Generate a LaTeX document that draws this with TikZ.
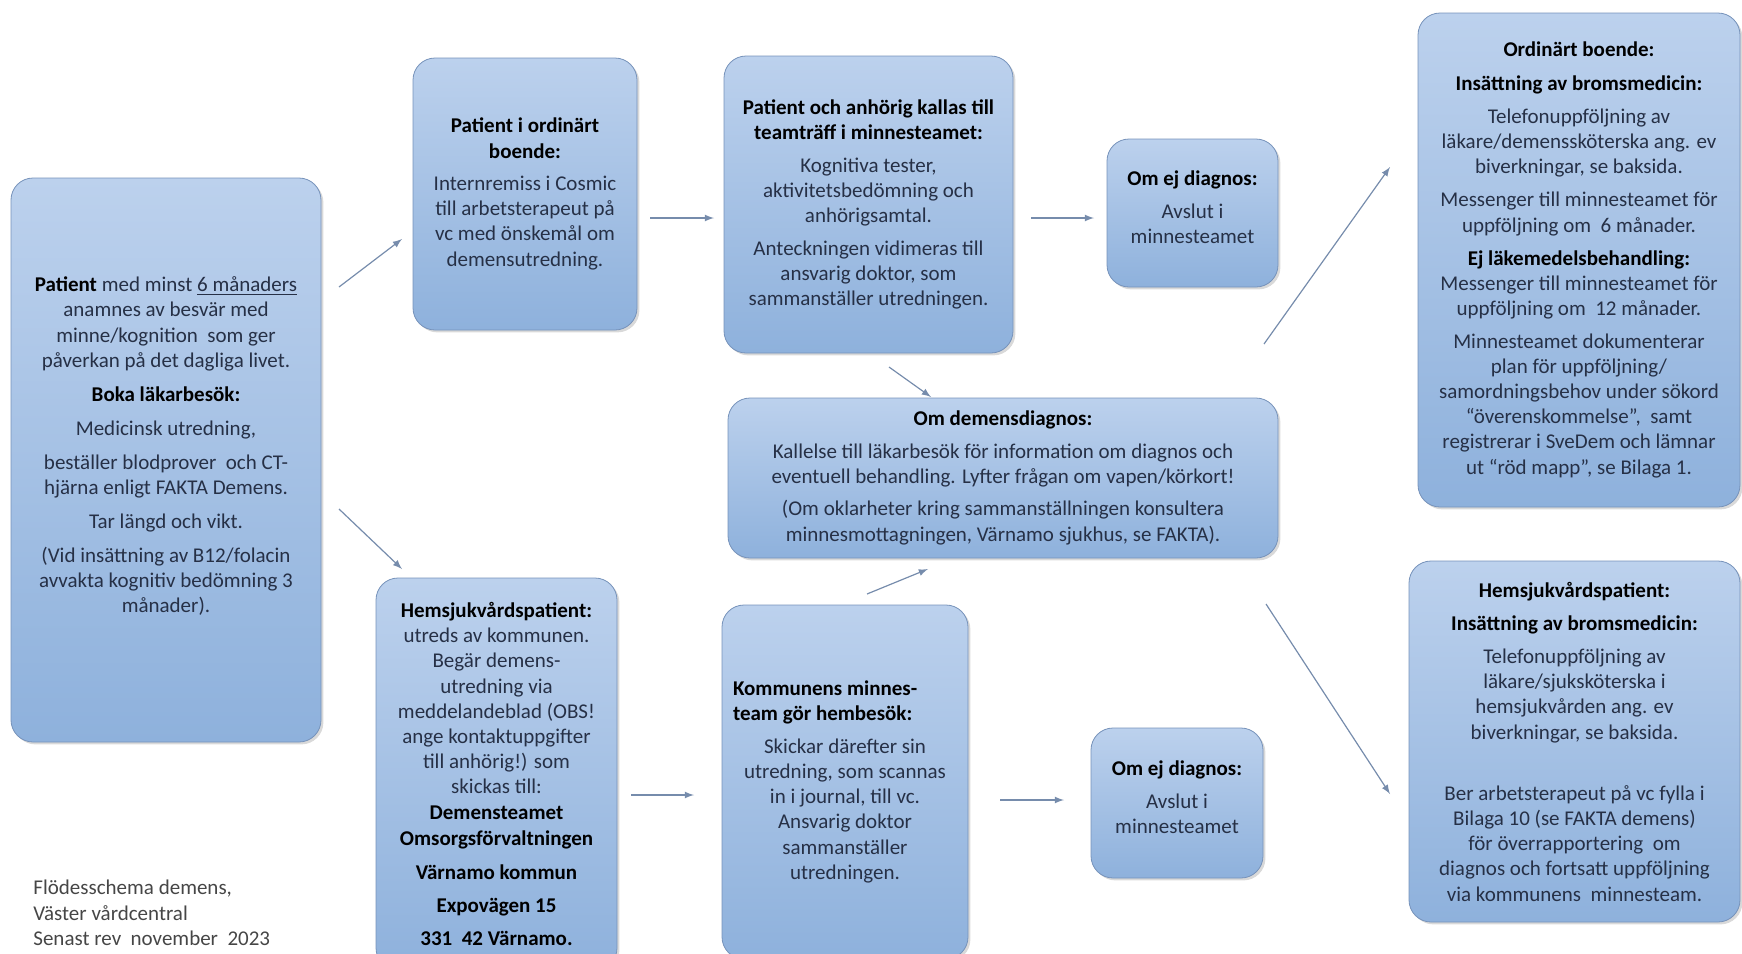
\documentclass[tikz,border=0pt]{standalone}
\usepackage{fontspec}
\setmainfont{Carlito}
\usetikzlibrary{calc,shadows}
\tikzset{>=latex}
\definecolor{boxtop}{RGB}{188,209,237}
\definecolor{boxbot}{RGB}{142,177,220}
\definecolor{boxline}{RGB}{118,146,186}
\definecolor{bodytext}{RGB}{38,48,70}
\definecolor{arrowcol}{RGB}{118,140,172}
\definecolor{foottext}{RGB}{70,70,70}
\newcommand\bodyfont{\fontsize{10.5}{12.6}\selectfont}
\newcommand\hd[1]{\textbf{\color{black}#1}}
\tikzstyle{box}  =[draw=boxline,thin,rounded corners=11pt,
                   top color=boxtop,bottom color=boxbot,
                   drop shadow={shadow xshift=1.2pt,shadow yshift=-1.2pt,opacity=0.3},
                   align=center,inner sep=2pt,font=\bodyfont,text=bodytext]
\tikzstyle{flow} =[->,line width=0.6pt,arrowcol]
\tikzstyle{foot} =[align=left,inner sep=0pt,font=\bodyfont,text=foottext]

\begin{document}
\begin{tikzpicture}[x=0.5pt,y=-0.5pt]
  \useasboundingbox (0,0) rectangle (1742,954);
  \clip (0,0) rectangle (1742,954);

  % Left column
  \node[box,minimum width=155pt,minimum height=282pt] (pat) at (166,460)
  {\hd{Patient} med minst \underline{6 månaders}\\
   anamnes av besvär med\\
   minne/kognition\ \ som ger\\
   påverkan på det dagliga livet.\\[4.4pt]
   \hd{Boka läkarbesök:}\\[4.4pt]
   Medicinsk utredning,\\[4.4pt]
   beställer blodprover\ \ och CT-\\
   hjärna enligt FAKTA Demens.\\[4.4pt]
   Tar längd och vikt.\\[4.4pt]
   (Vid insättning av B12/folacin\\
   avvakta kognitiv bedömning 3\\
   månader).\\[2.5pt]\mbox{}};

  % Second column
  \node[box,minimum width=112pt,minimum height=136pt] (ord) at (525,194)
  {\hd{Patient i ordinärt}\\
   \hd{boende:}\\[3.6pt]
   Internremiss i Cosmic\\
   till arbetsterapeut på\\
   vc med önskemål om\\
   demensutredning.};
  \node[box,minimum width=120.5pt,minimum height=196pt] (hem) at (496.5,774)
  {\hd{Hemsjukvårdspatient:}\\
   utreds av kommunen.\\
   Begär demens-\\
   utredning via\\
   meddelandeblad (OBS!\\
   ange kontaktuppgifter\\
   till anhörig!) som\\
   skickas till:\\
   \hd{Demensteamet}\\[0.8pt]
   \hd{Omsorgsförvaltningen}\\[4pt]
   \hd{Värnamo kommun}\\[4pt]
   \hd{Expovägen 15}\\[4pt]
   \hd{331\ \ 42 Värnamo.}};

  % Third column
  \node[box,minimum width=144.5pt,minimum height=148.5pt] (team) at (868.5,204.5)
  {\hd{Patient och anhörig kallas till}\\
   \hd{teamträff i minnesteamet:}\\[3.6pt]
   Kognitiva tester,\\
   aktivitetsbedömning och\\
   anhörigsamtal.\\[3.6pt]
   Anteckningen vidimeras till\\
   ansvarig doktor, som\\
   sammanställer utredningen.};
  \node[box,minimum width=275pt,minimum height=80pt] (diag) at (1003,478)
  {\hd{Om demensdiagnos:}\\[3.6pt]
   Kallelse till läkarbesök för information om diagnos och\\
   eventuell behandling. Lyfter frågan om vapen/körkort!\\[3.6pt]
   (Om oklarheter kring sammanställningen konsultera\\
   minnesmottagningen, Värnamo sjukhus, se FAKTA).};
  \node[box,minimum width=123pt,minimum height=177pt] (besok) at (845,782)
  {\makebox[112pt][l]{\hd{Kommunens minnes-}}\\
   \makebox[112pt][l]{\hd{team gör hembesök:}}\\[3.6pt]
   Skickar därefter sin\\
   utredning, som scannas\\
   in i journal, till vc.\\
   Ansvarig doktor\\
   sammanställer\\
   utredningen.};

  % Fourth column
  \node[box,minimum width=85.5pt,minimum height=74pt] (ejA) at (1192.5,213)
  {\hd{Om ej diagnos:}\\[3.6pt]
   Avslut i\\
   minnesteamet\\[-7pt]\mbox{}};
  \node[box,minimum width=86pt,minimum height=75pt] (ejB) at (1177,803)
  {\hd{Om ej diagnos:}\\[3.6pt]
   Avslut i\\
   minnesteamet\\[-7pt]\mbox{}};

  % Right column
  \node[box,minimum width=161pt,minimum height=247pt] (medA) at (1579,260)
  {\hd{Ordinärt boende:}\\[4pt]
   \hd{Insättning av bromsmedicin:}\\[4pt]
   Telefonuppföljning av\\
   läkare/demenssköterska ang. ev\\
   biverkningar, se baksida.\\[4pt]
   Messenger till minnesteamet för\\
   uppföljning om\ \ 6 månader.\\[4pt]
   \hd{Ej läkemedelsbehandling:}\\
   Messenger till minnesteamet för\\
   uppföljning om\ \ 12 månader.\\[3.6pt]
   Minnesteamet dokumenterar\\
   plan för uppföljning/\\
   samordningsbehov under sökord\\
   “överenskommelse”,\ \ samt\\
   registrerar i SveDem och lämnar\\
   ut “röd mapp”, se Bilaga 1.};
  \node[box,minimum width=165.5pt,minimum height=180.5pt] (medB) at (1574.5,741.5)
  {\hd{Hemsjukvårdspatient:}\\[4pt]
   \hd{Insättning av bromsmedicin:}\\[4pt]
   Telefonuppföljning av\\
   läkare/sjuksköterska i\\
   hemsjukvården ang. ev\\
   biverkningar, se baksida.\\[18pt]
   Ber arbetsterapeut på vc fylla i\\
   Bilaga 10 (se FAKTA demens)\\
   för överrapportering\ \ om\\
   diagnos och fortsatt uppföljning\\
   via kommunens\ \ minnesteam.};

  % Note
  \node[foot,anchor=north west] (note) at (33,880)
  {Flödesschema demens,\\
   Väster vårdcentral\\
   Senast rev\ \ november\ \ 2023};

  % Arrow ends
  \coordinate (pat-up)    at (339,287);
  \coordinate (ord-in)    at (402,239);
  \coordinate (pat-down)  at (339,509);
  \coordinate (hem-in)    at (402,569);
  \coordinate (ord-out)   at (650,218);
  \coordinate (team-in)   at (714,218);
  \coordinate (team-out)  at (1031,218);
  \coordinate (ejA-in)    at (1094,218);
  \coordinate (team-down) at (889,367);
  \coordinate (diag-in)   at (931,397);
  \coordinate (besok-up)  at (867,594);
  \coordinate (diag-in2)  at (928,569);
  \coordinate (hem-out)   at (631,795);
  \coordinate (besok-in)  at (694,795);
  \coordinate (besok-out) at (1000,800);
  \coordinate (ejB-in)    at (1064,800);
  \coordinate (diag-up)   at (1264,344);
  \coordinate (medA-in)   at (1390,167);
  \coordinate (diag-down) at (1266,604);
  \coordinate (medB-in)   at (1390,794);

  % Arrows
  \draw[flow] (pat-up)    -- (ord-in);
  \draw[flow] (pat-down)  -- (hem-in);
  \draw[flow] (ord-out)   -- (team-in);
  \draw[flow] (team-out)  -- (ejA-in);
  \draw[flow] (team-down) -- (diag-in);
  \draw[flow] (besok-up)  -- (diag-in2);
  \draw[flow] (hem-out)   -- (besok-in);
  \draw[flow] (besok-out) -- (ejB-in);
  \draw[flow] (diag-up)   -- (medA-in);
  \draw[flow] (diag-down) -- (medB-in);
\end{tikzpicture}
\end{document}
